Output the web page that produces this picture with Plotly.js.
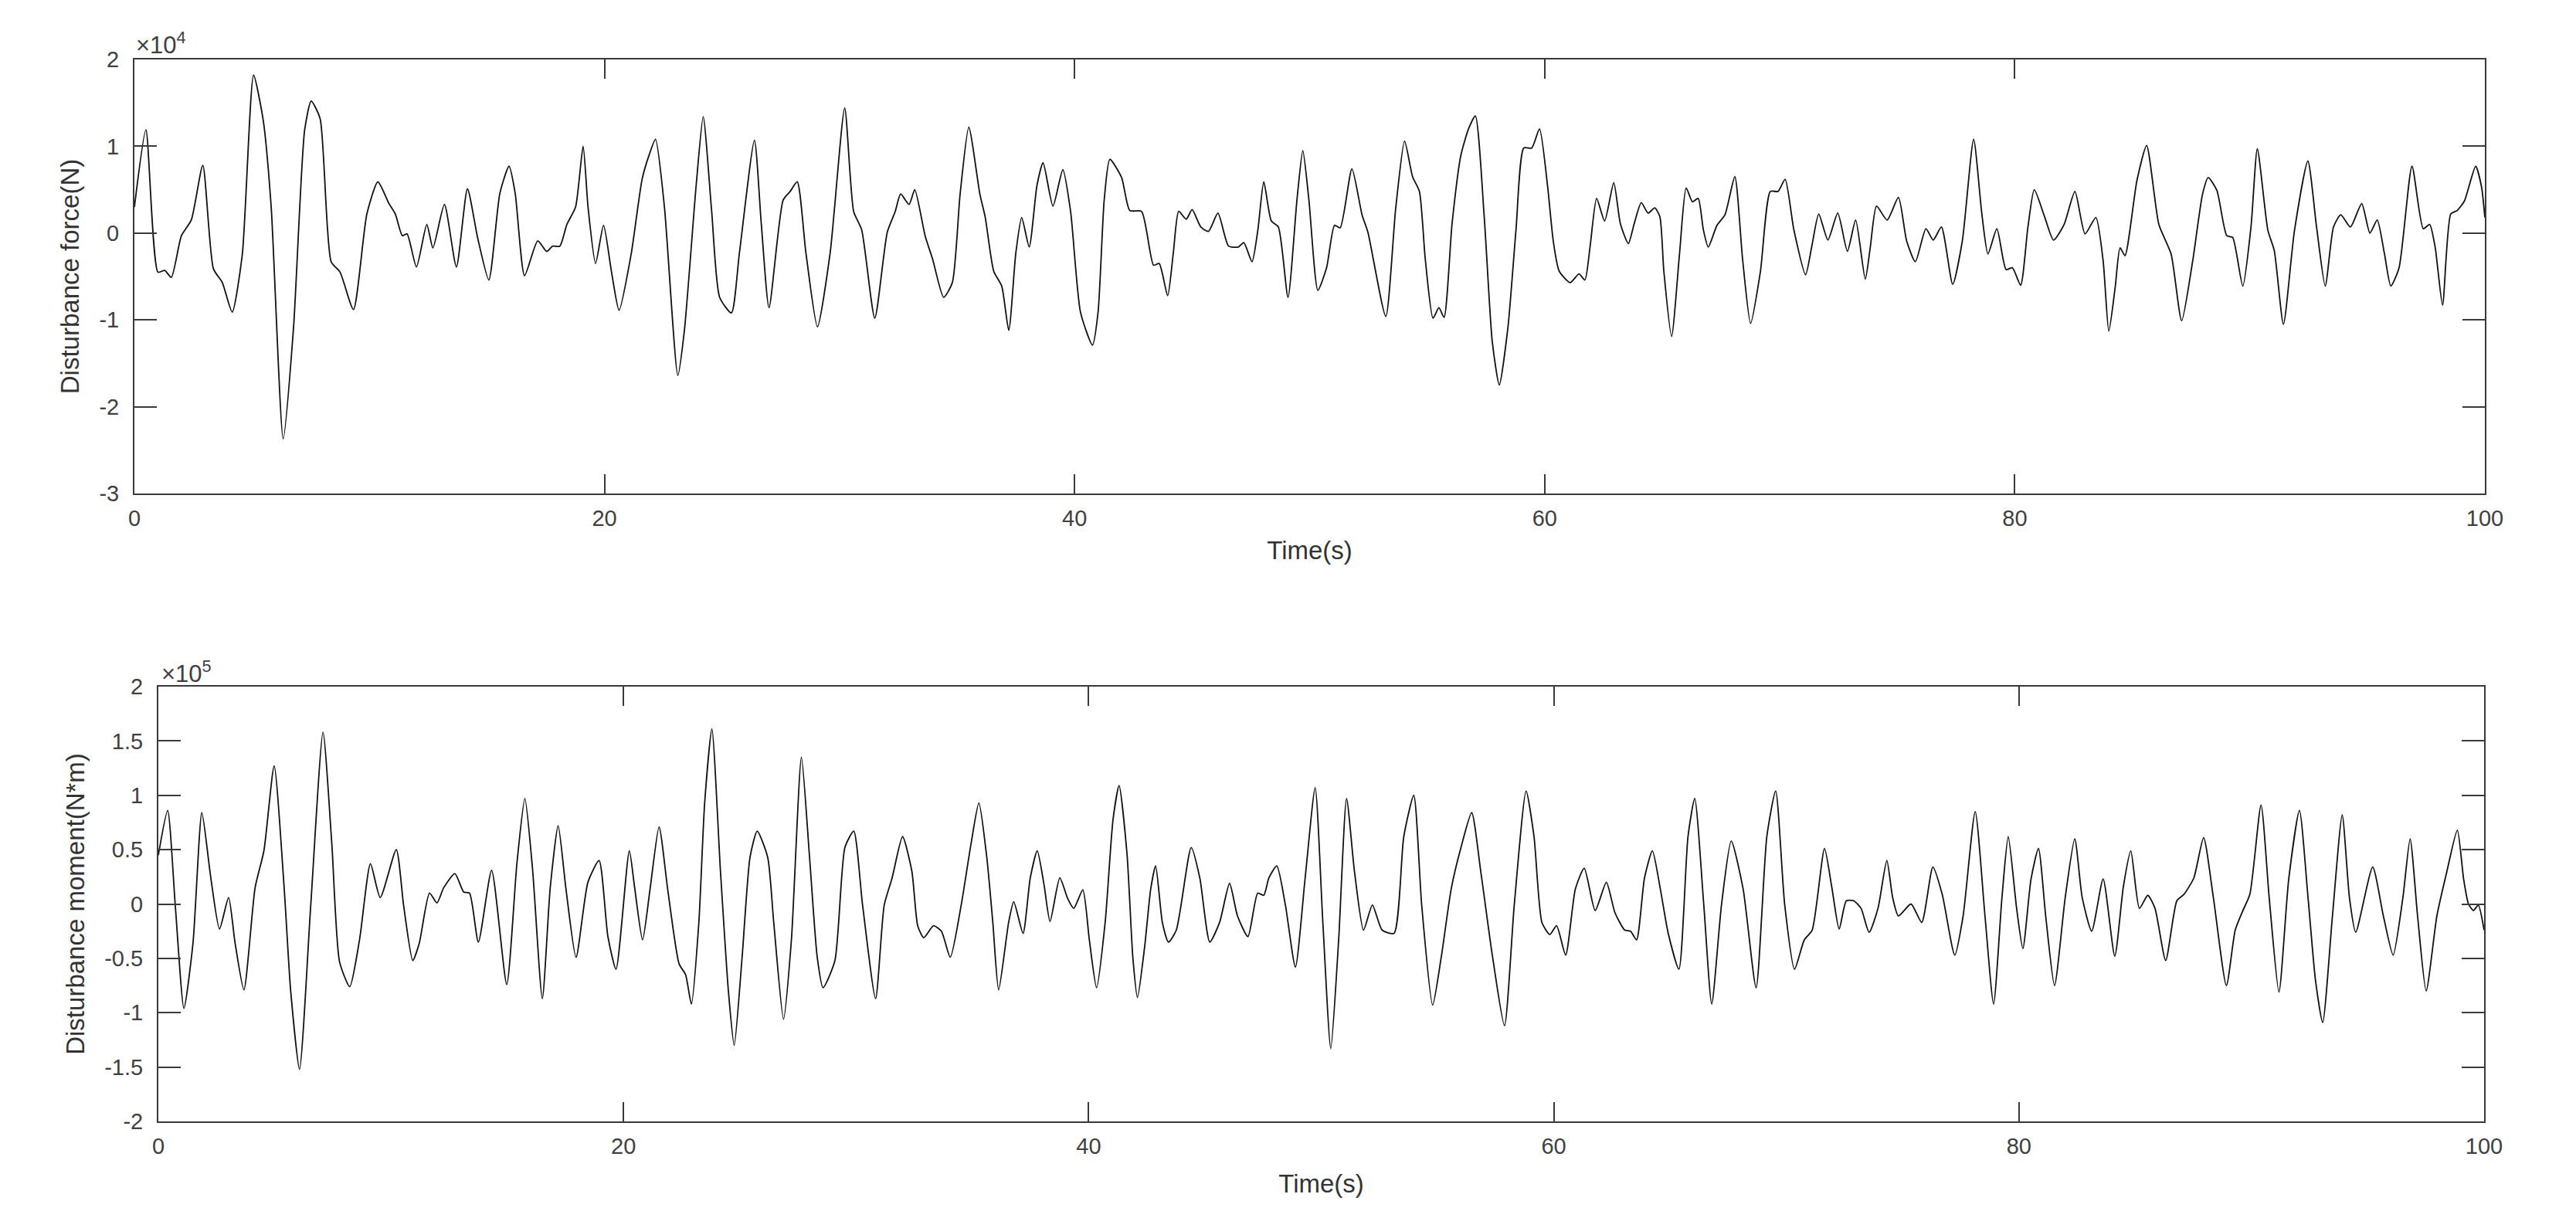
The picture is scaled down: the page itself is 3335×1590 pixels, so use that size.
<!DOCTYPE html>
<html>
<head>
<meta charset="utf-8">
<script src="https://cdn.plot.ly/plotly-3.0.1.min.js"></script>
<style>
  html, body { margin: 0; padding: 0; background: #fff; }
  #plot { width: 3335px; height: 1590px; }
</style>
</head>
<body>
<div id="plot"></div>
<script>
// Disturbance force, values in units of 1e4 N
var forceTime = [0, 0.49, 1.0, 1.29, 1.57, 2.0, 2.42, 2.91, 3.36, 3.74, 4.16, 4.59, 5.07, 5.48, 5.82, 6.33, 6.77, 7.24, 7.52, 7.9,
  8.37, 8.75, 9.32, 9.89, 10.36, 10.83, 11.1, 11.4, 11.6, 12.0, 12.44, 12.7, 13.19, 13.7, 14.17, 14.6, 15.08, 15.55, 15.94, 16.2,
  16.6, 17.16, 17.54, 17.8, 18.1, 18.4, 18.77, 19.09, 19.3, 19.62, 19.96, 20.3, 20.62, 21.13, 21.6, 21.9, 22.17, 22.55, 23.12, 23.4,
  23.9, 24.2, 24.56, 24.9, 25.4, 25.74, 26.38, 26.67, 27.0, 27.6, 27.9, 28.2, 28.57, 29.06, 29.6, 30.22, 30.6, 30.94, 31.5, 32.03,
  32.37, 32.6, 32.96, 33.2, 33.64, 33.96, 34.43, 34.8, 35.13, 35.5, 35.97, 36.2, 36.56, 36.9, 37.2, 37.5, 37.75, 38.07, 38.4, 38.66,
  39.08, 39.5, 39.83, 40.25, 40.76, 41.0, 41.26, 41.5, 42.0, 42.35, 42.85, 43.36, 43.6, 43.96, 44.2, 44.43, 44.75, 45.0, 45.37, 45.7,
  46.1, 46.55, 46.97, 47.2, 47.55, 47.8, 48.05, 48.37, 48.67, 49.08, 49.46, 49.71, 49.97, 50.35, 50.72, 51.06, 51.3, 51.8, 52.23, 52.48,
  53.24, 53.66, 54.04, 54.38, 54.67, 54.92, 55.25, 55.5, 55.72, 56.06, 56.43, 56.76, 57.05, 57.43, 57.77, 58.07, 58.44, 58.78, 59.11, 59.45,
  59.78, 60.12, 60.37, 60.62, 61.09, 61.46, 61.71, 61.93, 62.21, 62.55, 62.94, 63.22, 63.56, 63.81, 64.11, 64.4, 64.68, 64.9, 65.07, 65.4,
  65.74, 66.02, 66.29, 66.53, 66.75, 66.96, 67.33, 67.67, 68.09, 68.42, 68.76, 69.18, 69.6, 69.93, 70.23, 70.6, 71.1, 71.36, 71.66, 72.05,
  72.47, 72.88, 73.23, 73.64, 73.85, 74.12, 74.57, 75.05, 75.4, 75.77, 76.22, 76.53, 76.88, 77.36, 77.77, 78.25, 78.6, 78.86, 79.24, 79.63,
  79.9, 80.25, 80.56, 80.83, 81.28, 81.65, 82.1, 82.56, 82.99, 83.45, 83.76, 84.0, 84.27, 84.48, 84.69, 85.2, 85.61, 86.13, 86.65, 87.1,
  87.57, 87.99, 88.23, 88.6, 89.02, 89.27, 89.7, 90.05, 90.32, 90.77, 91.04, 91.43, 91.9, 92.47, 92.84, 93.21, 93.56, 93.87, 94.28, 94.76,
  95.11, 95.42, 95.73, 96.0, 96.35, 96.9, 97.38, 97.65, 97.89, 98.2, 98.55, 98.82, 99.13, 99.61, 99.86, 100];
var forceE4 = [0.3, 1.19, -0.45, -0.43, -0.51, -0.03, 0.15, 0.78, -0.41, -0.57, -0.91, -0.25, 1.82, 1.3, 0.3, -2.37, -1.09, 1.18, 1.52, 1.32,
  -0.33, -0.45, -0.88, 0.22, 0.59, 0.34, 0.22, -0.03, -0.01, -0.39, 0.1, -0.17, 0.33, -0.39, 0.51, -0.05, -0.54, 0.46, 0.77, 0.46,
  -0.49, -0.09, -0.21, -0.15, -0.15, 0.1, 0.3, 1.0, 0.3, -0.35, 0.09, -0.45, -0.89, -0.25, 0.62, 0.9, 1.08, 0.3, -1.64, -1.12,
  0.55, 1.34, 0.25, -0.74, -0.92, -0.23, 1.07, 0.11, -0.86, 0.38, 0.48, 0.59, -0.23, -1.08, -0.23, 1.44, 0.25, 0.04, -0.98, 0.01,
  0.25, 0.45, 0.33, 0.5, -0.03, -0.3, -0.74, -0.57, 0.45, 1.22, 0.45, 0.18, -0.44, -0.61, -1.12, -0.23, 0.18, -0.16, 0.55, 0.81,
  0.31, 0.73, 0.25, -0.91, -1.29, -0.91, 0.38, 0.85, 0.64, 0.26, 0.25, -0.37, -0.35, -0.72, -0.23, 0.25, 0.16, 0.27, 0.07, 0.02,
  0.23, -0.15, -0.16, -0.11, -0.33, 0.04, 0.59, 0.14, 0.07, -0.74, 0.38, 0.95, 0.38, -0.66, -0.4, 0.09, 0.06, 0.74, 0.21, 0.01,
  -0.96, 0.28, 1.06, 0.65, 0.48, -0.3, -0.98, -0.86, -0.97, 0.11, 0.89, 1.2, 1.35, 0.18, -1.25, -1.75, -1.08, 0.04, 0.98, 0.98,
  1.2, 0.55, -0.1, -0.44, -0.57, -0.47, -0.54, -0.16, 0.4, 0.14, 0.58, 0.11, -0.12, 0.11, 0.35, 0.23, 0.29, 0.19, -0.44, -1.19,
  -0.23, 0.52, 0.36, 0.4, 0.04, -0.16, 0.09, 0.21, 0.65, -0.3, -1.04, -0.44, 0.48, 0.48, 0.62, 0.04, -0.48, -0.16, 0.22, -0.08,
  0.23, -0.21, 0.15, -0.53, -0.17, 0.31, 0.15, 0.41, -0.09, -0.33, 0.05, -0.08, 0.07, -0.59, -0.09, 1.08, 0.22, -0.24, 0.05, -0.42,
  -0.4, -0.6, 0.07, 0.5, 0.18, -0.08, 0.1, 0.48, -0.01, 0.18, -0.32, -1.13, -0.63, -0.17, -0.26, 0.61, 1.01, 0.1, -0.24, -1.01,
  -0.32, 0.45, 0.64, 0.49, -0.03, -0.05, -0.61, 0.07, 0.97, 0.03, -0.2, -1.05, 0.03, 0.83, 0.07, -0.61, 0.07, 0.21, 0.07, 0.34,
  0.0, 0.15, -0.24, -0.61, -0.4, 0.77, 0.05, 0.1, -0.17, -0.83, 0.22, 0.26, 0.37, 0.77, 0.53, 0.18];

// Disturbance moment, values in units of 1e5 N*m
var momentTime = [0, 0.4, 0.73, 1.1, 1.49, 1.87, 2.25, 2.63, 3.02, 3.3, 3.68, 4.16, 4.54, 4.98, 5.4, 5.69, 6.07, 6.55, 7.08, 7.46,
  7.79, 8.23, 8.65, 9.12, 9.54, 10.23, 10.55, 10.94, 11.22, 11.66, 11.98, 12.27, 12.75, 13.13, 13.38, 13.76, 14.33, 14.98, 15.42, 15.76,
  16.09, 16.51, 16.85, 17.19, 17.52, 17.96, 18.47, 18.95, 19.33, 19.68, 20.25, 20.48, 20.82, 21.15, 21.53, 21.91, 22.39, 22.67, 22.92, 23.24,
  23.49, 23.8, 24.17, 24.51, 24.76, 25.1, 25.44, 25.75, 26.2, 26.46, 26.88, 27.22, 27.65, 27.99, 28.33, 28.58, 29.09, 29.52, 29.9, 30.28,
  30.84, 31.21, 31.55, 32.0, 32.4, 32.65, 32.91, 33.33, 33.67, 34.05, 34.52, 34.94, 35.28, 35.62, 35.88, 36.13, 36.56, 36.78, 37.18, 37.49,
  37.79, 38.08, 38.34, 38.76, 39.1, 39.36, 39.75, 40.03, 40.34, 40.71, 41.05, 41.31, 41.65, 41.9, 42.1, 42.41, 42.67, 42.88, 43.17, 43.43,
  43.77, 44.41, 44.78, 45.21, 45.63, 46.06, 46.4, 46.85, 47.27, 47.53, 47.75, 48.09, 48.46, 48.89, 49.31, 49.74, 50.07, 50.41, 50.75, 51.09,
  51.43, 51.82, 52.2, 52.62, 53.13, 53.55, 53.98, 54.32, 54.79, 55.16, 55.59, 56.01, 56.47, 56.86, 57.37, 57.88, 58.3, 58.81, 59.15, 59.49,
  59.83, 60.12, 60.51, 60.93, 61.31, 61.78, 62.26, 62.63, 63.05, 63.3, 63.56, 63.9, 64.24, 64.58, 64.92, 65.38, 65.77, 66.06, 66.45, 66.79,
  67.21, 67.63, 68.14, 68.7, 69.16, 69.54, 69.93, 70.35, 70.77, 71.11, 71.64, 71.95, 72.27, 72.58, 72.89, 73.21, 73.56, 73.94, 74.32, 74.57,
  74.82, 75.36, 75.82, 76.3, 76.7, 77.24, 77.6, 78.12, 78.54, 78.91, 79.27, 79.54, 79.9, 80.17, 80.52, 80.84, 81.15, 81.53, 81.99, 82.4,
  82.72, 83.13, 83.62, 84.12, 84.49, 84.81, 85.18, 85.54, 85.85, 86.31, 86.79, 87.1, 87.52, 87.94, 88.36, 88.92, 89.3, 89.61, 89.93, 90.41,
  90.76, 91.18, 91.6, 92.06, 92.43, 92.75, 93.06, 93.48, 93.9, 94.21, 94.48, 95.21, 95.67, 96.09, 96.51, 96.82, 97.14, 97.51, 97.97, 98.39,
  98.85, 99.12, 99.33, 99.54, 99.75, 100];
var momentE5 = [0.45, 0.86, -0.02, -0.96, -0.36, 0.84, 0.25, -0.23, 0.06, -0.36, -0.79, 0.15, 0.49, 1.27, 0.18, -0.8, -1.52, -0.02, 1.58, 0.55,
  -0.53, -0.76, -0.33, 0.37, 0.06, 0.5, -0.02, -0.52, -0.36, 0.1, 0.01, 0.15, 0.28, 0.11, 0.1, -0.35, 0.31, -0.74, 0.38, 0.97,
  0.32, -0.87, 0.15, 0.72, 0.15, -0.49, 0.2, 0.4, -0.3, -0.6, 0.49, 0.15, -0.33, 0.15, 0.71, 0.12, -0.55, -0.65, -0.92, -0.17,
  0.93, 1.61, 0.3, -0.8, -1.3, -0.49, 0.43, 0.67, 0.43, -0.17, -1.06, -0.33, 1.35, 0.46, -0.49, -0.77, -0.52, 0.52, 0.67, -0.01,
  -0.87, -0.01, 0.24, 0.62, 0.3, -0.2, -0.31, -0.2, -0.25, -0.49, -0.01, 0.55, 0.93, 0.43, -0.17, -0.79, -0.17, 0.02, -0.27, 0.24,
  0.49, 0.18, -0.16, 0.24, 0.05, -0.04, 0.13, -0.33, -0.77, -0.17, 0.78, 1.09, 0.46, -0.49, -0.86, -0.39, 0.14, 0.35, -0.17, -0.35,
  -0.24, 0.52, 0.24, -0.35, -0.17, 0.19, -0.11, -0.3, 0.1, 0.08, 0.24, 0.35, -0.01, -0.58, 0.24, 1.07, -0.17, -1.33, -0.33, 0.97,
  0.3, -0.24, -0.01, -0.24, -0.27, 0.62, 1.0, -0.01, -0.93, -0.49, 0.14, 0.52, 0.84, 0.3, -0.49, -1.12, -0.01, 1.04, 0.62, -0.17,
  -0.28, -0.2, -0.47, 0.14, 0.33, -0.06, 0.2, -0.08, -0.24, -0.25, -0.33, 0.24, 0.49, 0.14, -0.27, -0.6, 0.62, 0.97, -0.01, -0.92,
  -0.01, 0.58, 0.14, -0.77, 0.62, 1.04, -0.01, -0.6, -0.33, -0.24, 0.51, 0.16, -0.23, 0.03, 0.03, -0.04, -0.26, -0.04, 0.4, 0.06,
  -0.11, 0.0, -0.17, 0.34, 0.09, -0.47, -0.11, 0.85, -0.11, -0.92, 0.06, 0.62, -0.04, -0.41, 0.23, 0.51, -0.11, -0.75, 0.06, 0.6,
  0.06, -0.25, 0.23, -0.48, 0.16, 0.49, -0.04, 0.08, -0.04, -0.52, 0.03, 0.09, 0.24, 0.61, 0.06, -0.75, -0.24, -0.07, 0.09, 0.91,
  0.06, -0.81, 0.23, 0.86, 0.06, -0.7, -1.09, -0.11, 0.82, 0.06, -0.26, 0.34, -0.11, -0.47, 0.06, 0.6, -0.11, -0.8, -0.11, 0.29,
  0.68, 0.23, 0.0, -0.06, -0.01, -0.24];

// tick labels (MATLAB style, plain hyphen minus)
var timeTicks = [0, 20, 40, 60, 80, 100];
var forceTicks = [-3, -2, -1, 0, 1, 2];
var forceTickText = ["-3", "-2", "-1", "0", "1", "2"];
var momentTicks = [-2, -1.5, -1, -0.5, 0, 0.5, 1, 1.5, 2];
var momentTickText = ["-2", "-1.5", "-1", "-0.5", "0", "0.5", "1", "1.5", "2"];

var W = 3335, H = 1590;
var axisColor = "#3a3a3a";
var tickFont = {family: "Liberation Sans, Arial, sans-serif", size: 29, color: "#404040"};
var titleFont = {family: "Liberation Sans, Arial, sans-serif", size: 33, color: "#333333"};
var expFont = {family: "Liberation Sans, Arial, sans-serif", size: 31, color: "#404040"};

var trace1 = {
  x: forceTime,
  y: forceE4,
  type: "scatter",
  mode: "lines",
  line: {color: "#111111", width: 1.8, shape: "spline", smoothing: 0.6},
  xaxis: "x",
  yaxis: "y",
  hoverinfo: "skip"
};

var trace2 = {
  x: momentTime,
  y: momentE5,
  type: "scatter",
  mode: "lines",
  line: {color: "#111111", width: 1.8, shape: "spline", smoothing: 0.6},
  xaxis: "x2",
  yaxis: "y2",
  hoverinfo: "skip"
};

// shared axis styling, boxed like matlab
function xStyle(domain, anchor, standoff) {
  return {
    domain: domain, anchor: anchor, range: [0, 100],
    tickvals: timeTicks, ticks: "inside", ticklen: 25, tickwidth: 2, tickcolor: axisColor,
    showline: true, linecolor: axisColor, linewidth: 2, mirror: "ticks",
    showgrid: false, zeroline: false, tickfont: tickFont, ticklabelstandoff: 5,
    title: {text: "Time(s)", font: titleFont, standoff: standoff},
    automargin: false
  };
}

function yStyle(domain, anchor, vals, text, range, label) {
  return {
    domain: domain, anchor: anchor, range: range,
    tickvals: vals, ticktext: text, ticks: "inside", ticklen: 29, tickwidth: 2, tickcolor: axisColor,
    showline: true, linecolor: axisColor, linewidth: 2, mirror: "ticks",
    showgrid: false, zeroline: false, tickfont: tickFont, ticklabelstandoff: 12,
    title: {text: label, font: titleFont, standoff: 16},
    automargin: false
  };
}

var layout = {
  width: W,
  height: H,
  margin: {l: 0, r: 0, t: 0, b: 0},
  paper_bgcolor: "#ffffff",
  plot_bgcolor: "#ffffff",
  showlegend: false,
  xaxis: xStyle([174 / W, 3217 / W], "y", 15),
  yaxis: yStyle([1 - 639 / H, 1 - 77 / H], "x", forceTicks, forceTickText, [-3, 2], "Disturbance force(N)"),
  xaxis2: xStyle([205 / W, 3216 / W], "y2", 22),
  yaxis2: yStyle([1 - 1452 / H, 1 - 889 / H], "x2", momentTicks, momentTickText, [-2, 2], "Disturbance moment(N*m)"),
  annotations: [
    {text: "×10<sup>4</sup>", xref: "paper", yref: "paper", x: 174 / W, y: 1 - 56 / H,
      xanchor: "left", yanchor: "middle", showarrow: false, font: expFont},
    {text: "×10<sup>5</sup>", xref: "paper", yref: "paper", x: 207 / W, y: 1 - 870 / H,
      xanchor: "left", yanchor: "middle", showarrow: false, font: expFont}
  ]
};

Plotly.newPlot("plot", [trace1, trace2], layout, {displayModeBar: false, staticPlot: true});
</script>
</body>
</html>
